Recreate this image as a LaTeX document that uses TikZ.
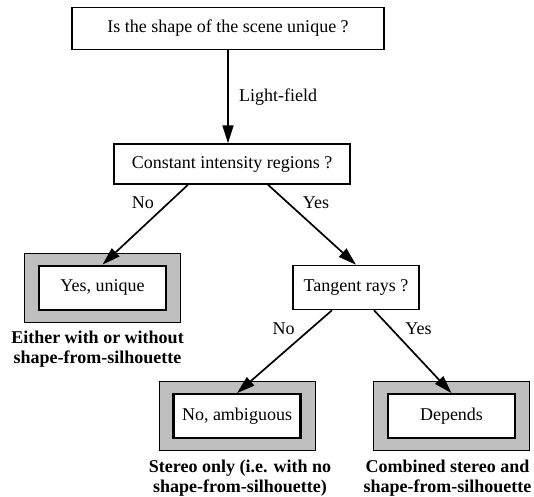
\documentclass[tikz,border=0pt]{standalone}
\usepackage{fontspec}
\setmainfont{Liberation Serif}
\usetikzlibrary{arrows.meta,positioning}

\begin{document}
\begin{tikzpicture}[
            font=\fontsize{18}{20}\selectfont,
            query/.style={draw,line width=1.5pt,align=center,minimum height=42pt,inner sep=0pt},
            frame/.style={draw,line width=0.9pt,fill=gray!50,minimum width=156pt,minimum height=69pt},
            answer/.style={draw,line width=2.2pt,fill=white,minimum width=127pt,minimum height=44pt},
            note/.style={align=center,font=\fontsize{18}{20}\selectfont\bfseries},
            arrow/.style={-{Triangle[length=18pt,width=11pt]},line width=1.7pt}
        ]
            \useasboundingbox (0,0) rectangle (534pt,-496pt);

            \node[query,minimum width=312pt] (shape) at (228pt,-28.5pt) {Is the shape of the scene unique ?};
            \node[query,minimum width=236pt,minimum height=40pt,below=93pt of shape,xshift=4pt] (intensity) {Constant intensity regions ?};
            \node[query,minimum width=126pt,minimum height=44pt,below=80pt of intensity,xshift=124pt] (tangent) {Tangent rays ?};

            \node[frame,below=68pt of intensity,xshift=-129.5pt] (uniqueframe) {};
            \node[answer] (unique) at (uniqueframe) {Yes, unique};
            \node[frame,below=71pt of tangent,xshift=-119pt] (ambigframe) {};
            \node[answer] (ambig) at (ambigframe) {No, ambiguous};
            \node[frame,below=71pt of tangent,xshift=95.5pt] (dependsframe) {};
            \node[answer] (depends) at (dependsframe) {Depends};

            \node[note,below=5pt of uniqueframe,xshift=-5pt] (uniquenote) {Either with or without\\shape-from-silhouette};
            \node[note,below=5pt of ambigframe,xshift=3pt] (ambignote) {Stereo only (i.e. with no\\shape-from-silhouette)};
            \node[note,below=5pt of dependsframe,xshift=-4pt] (dependsnote) {Combined stereo and\\shape-from-silhouette};

            \draw[arrow] (shape.south) -- (shape.south |- intensity.north) node[midway,right,xshift=7pt]{Light-field};
            \draw[arrow] ([xshift=-44pt]intensity.south) -- (unique.north) node[pos=0.35,above left]{No};
            \draw[arrow] ([xshift=36pt]intensity.south) -- (tangent.north) node[pos=0.35,above right]{Yes};
            \draw[arrow] ([xshift=-24pt]tangent.south) -- (ambig.north) node[pos=0.35,above left]{No};
            \draw[arrow] ([xshift=18pt]tangent.south) -- (depends.north) node[pos=0.35,above right]{Yes};
        \end{tikzpicture}
\end{document}
